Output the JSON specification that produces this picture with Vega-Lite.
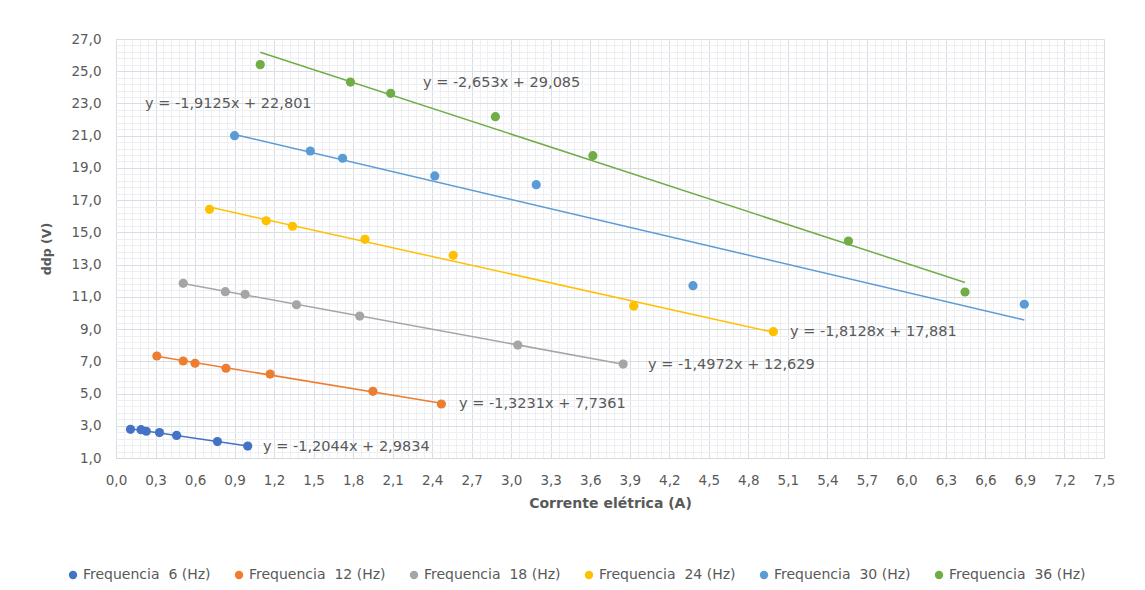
{
  "$schema": "https://vega.github.io/schema/vega-lite/v6.json",
  "width": 988,
  "height": 419,
  "autosize": {"type": "none"},
  "padding": {"left": 116, "top": 39, "right": 41, "bottom": 132},
  "background": "white",
  "config": {
    "view": {"stroke": null},
    "font": "DejaVu Sans",
    "locale": {"number": {"decimal": ",", "thousands": ".", "grouping": [3], "currency": ["", ""]}}
  },
  "datasets": {
    "pts": [
      {"serie": "Frequencia\u00a0 6 (Hz)", "corrente": 0.11, "ddp": 2.78},
      {"serie": "Frequencia\u00a0 6 (Hz)", "corrente": 0.19, "ddp": 2.76},
      {"serie": "Frequencia\u00a0 6 (Hz)", "corrente": 0.23, "ddp": 2.66},
      {"serie": "Frequencia\u00a0 6 (Hz)", "corrente": 0.33, "ddp": 2.58},
      {"serie": "Frequencia\u00a0 6 (Hz)", "corrente": 0.46, "ddp": 2.40},
      {"serie": "Frequencia\u00a0 6 (Hz)", "corrente": 0.77, "ddp": 2.02},
      {"serie": "Frequencia\u00a0 6 (Hz)", "corrente": 1.0, "ddp": 1.74},
      {"serie": "Frequencia\u00a0 12 (Hz)", "corrente": 0.31, "ddp": 7.33},
      {"serie": "Frequencia\u00a0 12 (Hz)", "corrente": 0.51, "ddp": 7.02},
      {"serie": "Frequencia\u00a0 12 (Hz)", "corrente": 0.60, "ddp": 6.88},
      {"serie": "Frequencia\u00a0 12 (Hz)", "corrente": 0.835, "ddp": 6.57},
      {"serie": "Frequencia\u00a0 12 (Hz)", "corrente": 1.17, "ddp": 6.21},
      {"serie": "Frequencia\u00a0 12 (Hz)", "corrente": 1.95, "ddp": 5.14},
      {"serie": "Frequencia\u00a0 12 (Hz)", "corrente": 2.47, "ddp": 4.35},
      {"serie": "Frequencia\u00a0 18 (Hz)", "corrente": 0.51, "ddp": 11.84},
      {"serie": "Frequencia\u00a0 18 (Hz)", "corrente": 0.83, "ddp": 11.32},
      {"serie": "Frequencia\u00a0 18 (Hz)", "corrente": 0.98, "ddp": 11.16},
      {"serie": "Frequencia\u00a0 18 (Hz)", "corrente": 1.37, "ddp": 10.51},
      {"serie": "Frequencia\u00a0 18 (Hz)", "corrente": 1.85, "ddp": 9.81},
      {"serie": "Frequencia\u00a0 18 (Hz)", "corrente": 3.05, "ddp": 8.01},
      {"serie": "Frequencia\u00a0 18 (Hz)", "corrente": 3.85, "ddp": 6.83},
      {"serie": "Frequencia\u00a0 24 (Hz)", "corrente": 0.71, "ddp": 16.43},
      {"serie": "Frequencia\u00a0 24 (Hz)", "corrente": 1.14, "ddp": 15.72},
      {"serie": "Frequencia\u00a0 24 (Hz)", "corrente": 1.34, "ddp": 15.38},
      {"serie": "Frequencia\u00a0 24 (Hz)", "corrente": 1.89, "ddp": 14.57},
      {"serie": "Frequencia\u00a0 24 (Hz)", "corrente": 2.56, "ddp": 13.58},
      {"serie": "Frequencia\u00a0 24 (Hz)", "corrente": 3.93, "ddp": 10.43},
      {"serie": "Frequencia\u00a0 24 (Hz)", "corrente": 4.99, "ddp": 8.84},
      {"serie": "Frequencia\u00a0 30 (Hz)", "corrente": 0.90, "ddp": 21.0},
      {"serie": "Frequencia\u00a0 30 (Hz)", "corrente": 1.475, "ddp": 20.05},
      {"serie": "Frequencia\u00a0 30 (Hz)", "corrente": 1.72, "ddp": 19.6},
      {"serie": "Frequencia\u00a0 30 (Hz)", "corrente": 2.42, "ddp": 18.5},
      {"serie": "Frequencia\u00a0 30 (Hz)", "corrente": 3.19, "ddp": 17.96},
      {"serie": "Frequencia\u00a0 30 (Hz)", "corrente": 4.38, "ddp": 11.69},
      {"serie": "Frequencia\u00a0 30 (Hz)", "corrente": 6.895, "ddp": 10.54},
      {"serie": "Frequencia\u00a0 36 (Hz)", "corrente": 1.095, "ddp": 25.41},
      {"serie": "Frequencia\u00a0 36 (Hz)", "corrente": 1.78, "ddp": 24.33},
      {"serie": "Frequencia\u00a0 36 (Hz)", "corrente": 2.085, "ddp": 23.63},
      {"serie": "Frequencia\u00a0 36 (Hz)", "corrente": 2.88, "ddp": 22.18},
      {"serie": "Frequencia\u00a0 36 (Hz)", "corrente": 3.62, "ddp": 19.76},
      {"serie": "Frequencia\u00a0 36 (Hz)", "corrente": 5.56, "ddp": 14.46},
      {"serie": "Frequencia\u00a0 36 (Hz)", "corrente": 6.445, "ddp": 11.3}
    ],
    "eqs": [
      {"corrente": 1.116, "ddp": 1.68, "txt": "y = -1,2044x + 2,9834"},
      {"corrente": 2.604, "ddp": 4.35, "txt": "y = -1,3231x + 7,7361"},
      {"corrente": 4.039, "ddp": 6.77, "txt": "y = -1,4972x + 12,629"},
      {"corrente": 5.117, "ddp": 8.82, "txt": "y = -1,8128x + 17,881"},
      {"corrente": 0.22, "ddp": 22.97, "txt": "y = -1,9125x + 22,801"},
      {"corrente": 2.33, "ddp": 24.27, "txt": "y = -2,653x + 29,085"}
    ]
  },
  "resolve": {"axis": {"x": "independent", "y": "independent"}},
  "layer": [
    {
      "data": {"name": "pts"},
      "mark": {"type": "point", "opacity": 0},
      "encoding": {
        "x": {"field": "corrente", "type": "quantitative",
          "scale": {"domain": [0, 7.5], "nice": false, "zero": false},
          "axis": {"orient": "bottom", "values": [0,0.06,0.12,0.18,0.24,0.3,0.36,0.42,0.48,0.54,0.6,0.66,0.72,0.78,0.84,0.9,0.96,1.02,1.08,1.14,1.2,1.26,1.32,1.38,1.44,1.5,1.56,1.62,1.68,1.74,1.8,1.86,1.92,1.98,2.04,2.1,2.16,2.22,2.28,2.34,2.4,2.46,2.52,2.58,2.64,2.7,2.76,2.82,2.88,2.94,3,3.06,3.12,3.18,3.24,3.3,3.36,3.42,3.48,3.54,3.6,3.66,3.72,3.78,3.84,3.9,3.96,4.02,4.08,4.14,4.2,4.26,4.32,4.38,4.44,4.5,4.56,4.62,4.68,4.74,4.8,4.86,4.92,4.98,5.04,5.1,5.16,5.22,5.28,5.34,5.4,5.46,5.52,5.58,5.64,5.7,5.76,5.82,5.88,5.94,6,6.06,6.12,6.18,6.24,6.3,6.36,6.42,6.48,6.54,6.6,6.66,6.72,6.78,6.84,6.9,6.96,7.02,7.08,7.14,7.2,7.26,7.32,7.38,7.44,7.5],
            "grid": true, "gridColor": "#EDEFF3", "gridWidth": 1, "labels": false, "ticks": false, "domain": false, "title": null}},
        "y": {"field": "ddp", "type": "quantitative",
          "scale": {"domain": [1, 27], "nice": false, "zero": false},
          "axis": {"orient": "left", "values": [1,1.4,1.8,2.2,2.6,3,3.4,3.8,4.2,4.6,5,5.4,5.8,6.2,6.6,7,7.4,7.8,8.2,8.6,9,9.4,9.8,10.2,10.6,11,11.4,11.8,12.2,12.6,13,13.4,13.8,14.2,14.6,15,15.4,15.8,16.2,16.6,17,17.4,17.8,18.2,18.6,19,19.4,19.8,20.2,20.6,21,21.4,21.8,22.2,22.6,23,23.4,23.8,24.2,24.6,25,25.4,25.8,26.2,26.6,27],
            "grid": true, "gridColor": "#EDEFF3", "gridWidth": 1, "labels": false, "ticks": false, "domain": false, "title": null}}
      }
    },
    {
      "data": {"name": "pts"},
      "transform": [{"regression": "ddp", "on": "corrente", "groupby": ["serie"]}],
      "mark": {"type": "line", "strokeWidth": 1.5},
      "encoding": {
        "x": {"field": "corrente", "type": "quantitative", "axis": null},
        "y": {"field": "ddp", "type": "quantitative", "axis": null},
        "color": {"field": "serie", "type": "nominal"}
      }
    },
    {
      "data": {"name": "pts"},
      "mark": {"type": "circle", "size": 85, "opacity": 1},
      "encoding": {
        "x": {"field": "corrente", "type": "quantitative",
          "axis": {"orient": "bottom", "values": [0,0.3,0.6,0.9,1.2,1.5,1.8,2.1,2.4,2.7,3,3.3,3.6,3.9,4.2,4.5,4.8,5.1,5.4,5.7,6,6.3,6.6,6.9,7.2,7.5],
            "format": ".1f", "grid": true, "gridColor": "#D9DDE4", "ticks": false, "domain": true, "domainColor": "#D9D9D9",
            "labelFontSize": 13.5, "labelColor": "#595959", "labelPadding": 15, "labelFlush": false,
            "title": "Corrente elétrica (A)", "titleFontSize": 14, "titleColor": "#595959", "titleFontWeight": "bold", "titlePadding": 10}},
        "y": {"field": "ddp", "type": "quantitative",
          "axis": {"orient": "left", "values": [1,3,5,7,9,11,13,15,17,19,21,23,25,27],
            "format": ".1f", "grid": true, "gridColor": "#D9DDE4", "ticks": false, "domain": false,
            "labelFontSize": 13.5, "labelColor": "#595959", "labelPadding": 15, "labelFlush": false,
            "title": "ddp (V)", "titleFontSize": 12.5, "titleColor": "#595959", "titleFontWeight": "bold", "titlePadding": 17}},
        "color": {"field": "serie", "type": "nominal",
          "scale": {"domain": ["Frequencia\u00a0 6 (Hz)", "Frequencia\u00a0 12 (Hz)", "Frequencia\u00a0 18 (Hz)", "Frequencia\u00a0 24 (Hz)", "Frequencia\u00a0 30 (Hz)", "Frequencia\u00a0 36 (Hz)"],
            "range": ["#4472C4", "#ED7D31", "#A5A5A5", "#FFC000", "#5B9BD5", "#70AD47"]},
          "legend": {"orient": "none", "direction": "horizontal", "legendX": -50, "legendY": 529, "title": null,
            "symbolType": "circle", "symbolSize": 70, "symbolStrokeWidth": 0, "labelFontSize": 14, "labelColor": "#595959", "labelOffset": 3, "columnPadding": 21}}
      }
    },
    {
      "data": {"name": "eqs"},
      "mark": {"type": "text", "align": "left", "baseline": "middle", "fontSize": 14.5, "color": "#595959"},
      "encoding": {
        "x": {"field": "corrente", "type": "quantitative", "axis": null},
        "y": {"field": "ddp", "type": "quantitative", "axis": null},
        "text": {"field": "txt"}
      }
    }
  ]
}
